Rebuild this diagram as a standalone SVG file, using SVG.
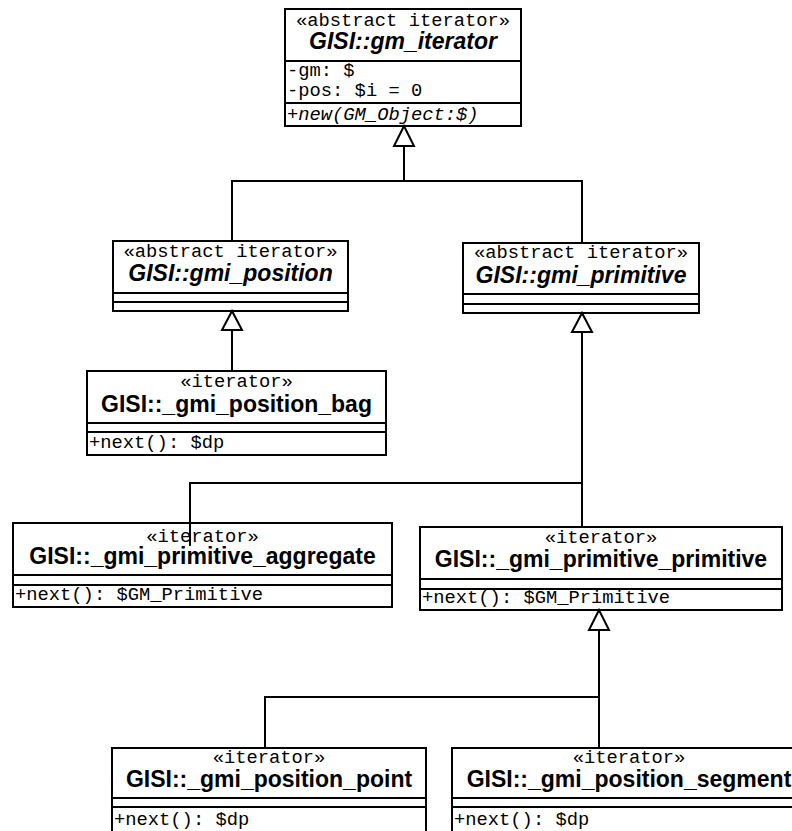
<svg xmlns="http://www.w3.org/2000/svg" width="792" height="831" viewBox="0 0 792 831">
<style>
.box{fill:#fff;stroke:#000;stroke-width:2}
.div{stroke:#000;stroke-width:2}
.st{font-family:"Liberation Mono",monospace;font-size:18.8px;text-anchor:middle;fill:#000}
.nm{font-family:"Liberation Sans",Arial,sans-serif;font-size:23px;font-weight:bold;text-anchor:middle;fill:#000}
.it{font-style:italic}
.op{font-family:"Liberation Mono",monospace;font-size:18.8px;fill:#000}
.con{fill:none;stroke:#000;stroke-width:2}
.tri{fill:#fff;stroke:#000;stroke-width:2}
</style>
<rect width="792" height="831" fill="#fff"/>
<g id="gm_iterator">
<rect class="box" x="285" y="9" width="236" height="117"/>
<line class="div" x1="285" y1="61" x2="521" y2="61"/>
<line class="div" x1="285" y1="103" x2="521" y2="103"/>
<text class="st" x="403" y="26">«abstract iterator»</text>
<text class="nm it" x="403" y="49">GISI::gm_iterator</text>
<text class="op" x="287" y="76">-gm: $</text>
<text class="op" x="287" y="96">-pos: $i = 0</text>
<text class="op it" x="287" y="120">+new(GM_Object:$)</text>
</g>
<g id="gmi_position">
<rect class="box" x="113" y="241" width="235" height="70"/>
<line class="div" x1="113" y1="293" x2="348" y2="293"/>
<line class="div" x1="113" y1="302" x2="348" y2="302"/>
<text class="st" x="230.5" y="257">«abstract iterator»</text>
<text class="nm it" x="230.5" y="281">GISI::gmi_position</text>
</g>
<g id="gmi_primitive">
<rect class="box" x="463" y="243" width="236" height="70"/>
<line class="div" x1="463" y1="294" x2="699" y2="294"/>
<line class="div" x1="463" y1="304" x2="699" y2="304"/>
<text class="st" x="581" y="258">«abstract iterator»</text>
<text class="nm it" x="581" y="283">GISI::gmi_primitive</text>
</g>
<g id="gmi_position_bag">
<rect class="box" x="87" y="371" width="299" height="84"/>
<line class="div" x1="87" y1="423" x2="386" y2="423"/>
<line class="div" x1="87" y1="432" x2="386" y2="432"/>
<text class="st" x="236.5" y="387">«iterator»</text>
<text class="nm" x="236.5" y="412">GISI::_gmi_position_bag</text>
<text class="op" x="89" y="448">+next(): $dp</text>
</g>
<g id="gmi_primitive_aggregate">
<rect class="box" x="13" y="523" width="379" height="84"/>
<line class="div" x1="13" y1="575" x2="392" y2="575"/>
<line class="div" x1="13" y1="585" x2="392" y2="585"/>
<text class="st" x="202.5" y="542">«iterator»</text>
<text class="nm" x="202.5" y="564">GISI::_gmi_primitive_aggregate</text>
<text class="op" x="15" y="600">+next(): $GM_Primitive</text>
</g>
<g id="gmi_primitive_primitive">
<rect class="box" x="420" y="527" width="362" height="83"/>
<line class="div" x1="420" y1="579" x2="782" y2="579"/>
<line class="div" x1="420" y1="589" x2="782" y2="589"/>
<text class="st" x="601" y="543">«iterator»</text>
<text class="nm" x="601" y="567">GISI::_gmi_primitive_primitive</text>
<text class="op" x="422" y="603">+next(): $GM_Primitive</text>
</g>
<g id="gmi_position_point">
<rect class="box" x="112" y="748" width="314" height="100"/>
<line class="div" x1="112" y1="798" x2="426" y2="798"/>
<line class="div" x1="112" y1="807" x2="426" y2="807"/>
<text class="st" x="269" y="763">«iterator»</text>
<text class="nm" x="269" y="787">GISI::_gmi_position_point</text>
<text class="op" x="114" y="825">+next(): $dp</text>
</g>
<g id="gmi_position_segment">
<rect class="box" x="452" y="748" width="354" height="100"/>
<line class="div" x1="452" y1="798" x2="806" y2="798"/>
<line class="div" x1="452" y1="807" x2="806" y2="807"/>
<text class="st" x="629" y="763">«iterator»</text>
<text class="nm" x="629" y="787">GISI::_gmi_position_segment</text>
<text class="op" x="454" y="825">+next(): $dp</text>
</g>
<g id="connectors">
<path class="con" d="M232,241 V181 H582 V243 M404,181 V146"/>
<polygon class="tri" points="404,126 394,146 414,146"/>
<path class="con" d="M232,371 V330"/>
<polygon class="tri" points="232,311 222,330 242,330"/>
<path class="con" d="M582,527 V332 M190,546 V483 H582"/>
<polygon class="tri" points="582,313 572,332 592,332"/>
<path class="con" d="M599,748 V630 M265,748 V697 H599"/>
<polygon class="tri" points="599,610 589,630 609,630"/>
</g>
</svg>
